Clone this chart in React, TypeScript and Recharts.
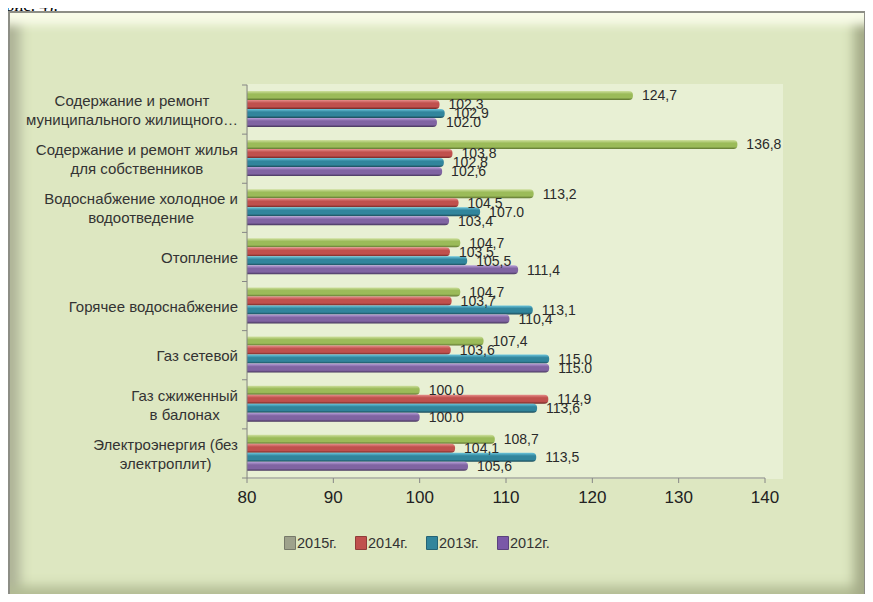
import { BarChart, Bar, XAxis, YAxis, LabelList } from "recharts";

// категории сверху вниз
const categories = [
  "Содержание и ремонт\nмуниципального жилищного…",
  "Содержание и ремонт жилья\nдля собственников",
  "Водоснабжение холодное и\nводоотведение",
  "Отопление",
  "Горячее водоснабжение",
  "Газ сетевой",
  "Газ сжиженный\nв балонах",
  "Электроэнергия (без\nэлектроплит)",
];

const y2015 = [124.7, 136.8, 113.2, 104.7, 104.7, 107.4, 100.0, 108.7];
const y2014 = [102.3, 103.8, 104.5, 103.5, 103.7, 103.6, 114.9, 104.1];
const y2013 = [102.9, 102.8, 107.0, 105.5, 113.1, 115.0, 113.6, 113.5];
const y2012 = [102.0, 102.6, 103.4, 111.4, 110.4, 115.0, 100.0, 105.6];

const xTicks = [80, 90, 100, 110, 120, 130, 140];

const series = [
  { key: "y2015", name: "2015г.", light: "#cfe09f", main: "#9bbb59", dark: "#5e7430", icon: "#9ea28c" },
  { key: "y2014", name: "2014г.", light: "#e8908d", main: "#c0504d", dark: "#722826", icon: "#c0504d" },
  { key: "y2013", name: "2013г.", light: "#6cc6dd", main: "#31859c", dark: "#1c4b58", icon: "#31859c" },
  { key: "y2012", name: "2012г.", light: "#b9a2da", main: "#8064a2", dark: "#46365c", icon: "#7a58a8" },
];

const data = categories.map((name, i) => ({
  name,
  y2015: y2015[i],
  y2014: y2014[i],
  y2013: y2013[i],
  y2012: y2012[i],
}));

const FONT = "'Liberation Sans', Arial, sans-serif";
const LABEL_FONT_SIZE = 15;

let measureCtx: CanvasRenderingContext2D | null = null;
function textWidth(s: string) {
  if (!measureCtx) measureCtx = document.createElement("canvas").getContext("2d");
  if (!measureCtx) return s.length * 7;
  measureCtx.font = `${LABEL_FONT_SIZE}px ${FONT}`;
  return measureCtx.measureText(s).width;
}

const fmt = (v: number) =>
  Number.isInteger(v) ? v.toFixed(1) : String(v).replace(".", ",");

function CategoryTick(props: any) {
  const { x, y, payload, index } = props;
  const lines = String(payload.value).split("\n");
  const maxW = Math.max(...lines.map(textWidth));
  const cx = x - 9 - maxW / 2;
  const half = payload.offset || 24.6;
  const lh = 19;
  const startY = y - ((lines.length - 1) * lh) / 2;
  return (
    <g>
      <line x1={x - 5} x2={x} y1={y - half} y2={y - half} stroke="#868686" />
      {index === categories.length - 1 && (
        <line x1={x - 5} x2={x} y1={y + half} y2={y + half} stroke="#868686" />
      )}
      <text
        x={cx}
        y={startY}
        textAnchor="middle"
        dominantBaseline="central"
        fontSize={LABEL_FONT_SIZE}
        fontFamily={FONT}
        fill="#333"
      >
        {lines.map((l, i) => (
          <tspan key={i} x={cx} y={startY + i * lh}>
            {l}
          </tspan>
        ))}
      </text>
    </g>
  );
}

export default function App() {
  return (
    <div style={{ position: "relative", width: 873, height: 602, margin: -8, overflow: "hidden", background: "#fff" }}>
      <div
        style={{
          position: "absolute",
          left: 0,
          top: -4,
          fontFamily: "'Liberation Serif', serif",
          fontSize: 17,
          lineHeight: "20px",
          color: "#000",
        }}
      >
        (рис. 4).
      </div>
      <div
        style={{
          position: "absolute",
          left: 8,
          top: 11,
          width: 854,
          height: 583,
          border: "2px solid #8d8e86",
          background: "#dde7c1",
          boxShadow:
            "inset 0 22px 10px -10px #f8fbe8, inset -18px 0 12px -8px #a4ab88, inset 0 -18px 12px -8px #b3bc95, inset 18px 0 12px -8px #aeb498",
        }}
      />
      <div
        style={{
          position: "absolute",
          left: 248,
          top: 84,
          width: 535,
          height: 395,
          background: "#e8f0d4",
        }}
      />
      <div style={{ position: "absolute", left: 0, top: 0 }}>
        <BarChart
          width={873}
          height={602}
          data={data}
          layout="vertical"
          margin={{ top: 85, right: 108, bottom: 94, left: 18 }}
          barGap={0}
          barCategoryGap="12%"
        >
          <defs>
            {series.map((s) => (
              <linearGradient key={s.key} id={`g-${s.key}`} x1="0" y1="0" x2="0" y2="1">
                <stop offset="0%" stopColor={s.light} />
                <stop offset="35%" stopColor={s.main} />
                <stop offset="75%" stopColor={s.main} />
                <stop offset="100%" stopColor={s.dark} />
              </linearGradient>
            ))}
          </defs>
          <XAxis
            type="number"
            domain={[80, 140]}
            ticks={xTicks}
            interval={0}
            stroke="#868686"
            tickSize={5}
            tickMargin={8}
            height={30}
            tick={{ fontSize: 17, fill: "#222", fontFamily: FONT }}
          />
          <YAxis
            type="category"
            dataKey="name"
            width={229}
            stroke="#868686"
            tickLine={false}
            tickSize={0}
            tickMargin={0}
            interval={0}
            tick={<CategoryTick />}
          />
          {series.map((s) => (
            <Bar
              key={s.key}
              dataKey={s.key}
              name={s.name}
              fill={`url(#g-${s.key})`}
              radius={[0, 4, 4, 0]}
              isAnimationActive={false}
            >
              <LabelList
                dataKey={s.key}
                position="right"
                offset={9}
                formatter={(v: any) => fmt(Number(v))}
                style={{ fontSize: 14, fill: "#2a2a2a", fontFamily: FONT }}
              />
            </Bar>
          ))}
        </BarChart>
      </div>
      <div
        style={{
          position: "absolute",
          left: 284,
          top: 535,
          display: "flex",
          fontFamily: FONT,
          fontSize: 14.5,
          color: "#333",
        }}
      >
        {series.map((s) => (
          <div key={s.key} style={{ display: "flex", alignItems: "center", width: 71 }}>
            <span
              style={{
                display: "inline-block",
                width: 10,
                height: 12,
                background: s.icon,
                border: "1px solid rgba(0,0,0,0.25)",
                borderRadius: 1,
                marginRight: 1,
              }}
            />
            {s.name}
          </div>
        ))}
      </div>
    </div>
  );
}
